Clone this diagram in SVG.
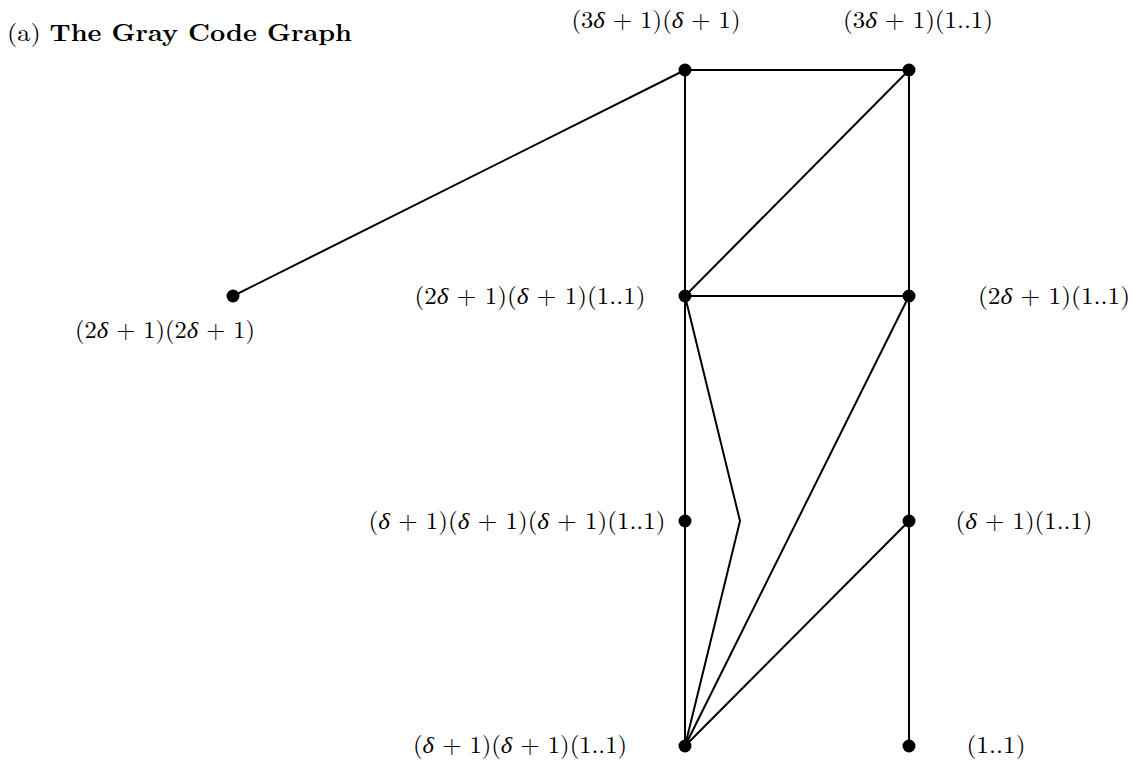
<svg xmlns="http://www.w3.org/2000/svg" width="1138" height="761" viewBox="0 0 1138 761">
<style>
text{font-family:"Latin Modern Roman","Liberation Serif","DejaVu Serif",serif;font-size:24px;fill:#000}
.e{stroke:#000;stroke-width:2;fill:none;stroke-linejoin:miter}
.n{fill:#000}
.b{font-weight:bold}
</style>
<rect width="1138" height="761" fill="#fff"/>
<text x="7" y="41" textLength="345" lengthAdjust="spacingAndGlyphs">(a) <tspan class="b">The Gray Code Graph</tspan></text>
<g id="connectors">
<line class="e" x1="685" y1="70" x2="909" y2="70"/>
<line class="e" x1="685" y1="70" x2="233" y2="296"/>
<line class="e" x1="685" y1="70" x2="685" y2="296"/>
<line class="e" x1="909" y1="70" x2="685" y2="296"/>
<line class="e" x1="909" y1="70" x2="909" y2="296"/>
<line class="e" x1="685" y1="296" x2="909" y2="296"/>
<line class="e" x1="685" y1="296" x2="685" y2="521"/>
<line class="e" x1="685" y1="521" x2="685" y2="746"/>
<polyline class="e" points="685,296 740,521 685,746"/>
<line class="e" x1="909" y1="296" x2="685" y2="746"/>
<line class="e" x1="909" y1="521" x2="685" y2="746"/>
<line class="e" x1="909" y1="296" x2="909" y2="521"/>
<line class="e" x1="909" y1="521" x2="909" y2="746"/>
</g>
<g id="n1"><circle class="n" cx="685" cy="70" r="6.5"/><text x="656" y="28" text-anchor="middle" textLength="169" lengthAdjust="spacingAndGlyphs">(3<tspan font-style="italic">δ</tspan> + 1)(<tspan font-style="italic">δ</tspan> + 1)</text></g>
<g id="n2"><circle class="n" cx="909" cy="70" r="6.5"/><text x="918" y="28" text-anchor="middle" textLength="150" lengthAdjust="spacingAndGlyphs">(3<tspan font-style="italic">δ</tspan> + 1)(1..1)</text></g>
<g id="n3"><circle class="n" cx="233" cy="296" r="6.5"/><text x="165" y="338" text-anchor="middle" textLength="180" lengthAdjust="spacingAndGlyphs">(2<tspan font-style="italic">δ</tspan> + 1)(2<tspan font-style="italic">δ</tspan> + 1)</text></g>
<g id="n4"><circle class="n" cx="685" cy="296" r="6.5"/><text x="530" y="304" text-anchor="middle" textLength="231" lengthAdjust="spacingAndGlyphs">(2<tspan font-style="italic">δ</tspan> + 1)(<tspan font-style="italic">δ</tspan> + 1)(1..1)</text></g>
<g id="n5"><circle class="n" cx="909" cy="296" r="6.5"/><text x="1054" y="304" text-anchor="middle" textLength="152" lengthAdjust="spacingAndGlyphs">(2<tspan font-style="italic">δ</tspan> + 1)(1..1)</text></g>
<g id="n6"><circle class="n" cx="685" cy="521" r="6.5"/><text x="517" y="529" text-anchor="middle" textLength="297" lengthAdjust="spacingAndGlyphs">(<tspan font-style="italic">δ</tspan> + 1)(<tspan font-style="italic">δ</tspan> + 1)(<tspan font-style="italic">δ</tspan> + 1)(1..1)</text></g>
<g id="n7"><circle class="n" cx="909" cy="521" r="6.5"/><text x="1024" y="529" text-anchor="middle" textLength="137" lengthAdjust="spacingAndGlyphs">(<tspan font-style="italic">δ</tspan> + 1)(1..1)</text></g>
<g id="n8"><circle class="n" cx="685" cy="746" r="6.5"/><text x="520" y="753" text-anchor="middle" textLength="214" lengthAdjust="spacingAndGlyphs">(<tspan font-style="italic">δ</tspan> + 1)(<tspan font-style="italic">δ</tspan> + 1)(1..1)</text></g>
<g id="n9"><circle class="n" cx="909" cy="746" r="6.5"/><text x="996" y="753" text-anchor="middle" textLength="59" lengthAdjust="spacingAndGlyphs">(1..1)</text></g>
</svg>
